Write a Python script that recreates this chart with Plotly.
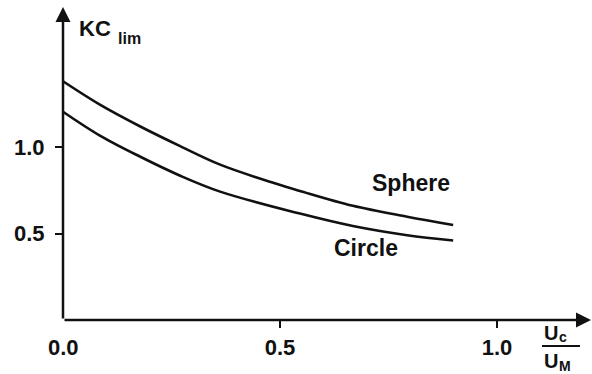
import plotly.graph_objects as go

# Limiting KC versus current ratio Uc/UM
sphere_x = [0.0, 0.085, 0.177, 0.27, 0.362, 0.488, 0.546, 0.668, 0.793, 0.899]
sphere_kc = [1.38, 1.245, 1.12, 1.005, 0.898, 0.79, 0.746, 0.66, 0.597, 0.549]

circle_x = [0.0, 0.085, 0.177, 0.27, 0.362, 0.546, 0.668, 0.793, 0.899]
circle_kc = [1.204, 1.066, 0.945, 0.834, 0.742, 0.615, 0.543, 0.49, 0.46]

x_ticks = [0.5, 1.0]
x_tick_text = ["0.5", "1.0"]
y_ticks = [0.5, 1.0]
y_tick_text = ["0.5", "1.0"]

W, H = 592, 374
L, B = 63, 54            # plot area origin in pixels
PX_X = 434.0             # pixels per unit of Uc/UM
PX_Y = 173.0             # pixels per unit of KC
plot_w, plot_h = W - L, H - B
x_max = plot_w / PX_X
y_max = plot_h / PX_Y

FONT = "Liberation Sans, Arial, Helvetica, sans-serif"
INK = "#111111"


def px(xp):
    return (xp - L) / plot_w


def py(yp):
    return (plot_h - yp) / plot_h


fig = go.Figure()
fig.add_trace(go.Scatter(x=sphere_x, y=sphere_kc, mode="lines",
                         line=dict(color=INK, width=2.6, shape="spline", smoothing=1.0),
                         name="Sphere", showlegend=False, hoverinfo="skip"))
fig.add_trace(go.Scatter(x=circle_x, y=circle_kc, mode="lines",
                         line=dict(color=INK, width=2.6, shape="spline", smoothing=1.0),
                         name="Circle", showlegend=False, hoverinfo="skip"))

annotations = []
# axis arrows
annotations.append(dict(x=(591 - L) / PX_X, y=0, ax=0, ay=0, xref="x", yref="y",
                        axref="x", ayref="y", text="", showarrow=True,
                        arrowhead=2, arrowsize=1.2, arrowwidth=2.5, arrowcolor=INK))
annotations.append(dict(x=0, y=(plot_h - 7) / PX_Y, ax=0, ay=0, xref="x", yref="y",
                        axref="x", ayref="y", text="", showarrow=True,
                        arrowhead=2, arrowsize=1.2, arrowwidth=2.5, arrowcolor=INK))


def label(text, xp, yp, size, anchor="center"):
    annotations.append(dict(text="<b>%s</b>" % text, x=px(xp), y=py(yp),
                            xref="paper", yref="paper",
                            xanchor=anchor, yanchor="middle", showarrow=False,
                            font=dict(family=FONT, size=size, color=INK)))


label("0.0", 63, 347, 22)
label("KC", 77, 29, 22, "left")
label("lim", 116, 38, 16, "left")
label("Sphere", 411, 183, 23)
label("Circle", 366, 248, 23)
label("U", 542, 333, 20, "left")
label("c", 557, 337, 14, "left")
label("U", 542, 361, 20, "left")
label("M", 557, 366, 14, "left")

fig.add_shape(type="line", xref="paper", yref="paper",
              x0=px(542), x1=px(580), y0=py(346), y1=py(346),
              line=dict(color=INK, width=2))

tick_font = dict(family="Liberation Sans, Arial, sans-serif", size=22, color=INK,
                 weight="bold")
fig.update_layout(
    width=W, height=H,
    margin=dict(l=L, r=0, t=0, b=B),
    paper_bgcolor="white", plot_bgcolor="white",
    annotations=annotations,
    xaxis=dict(range=[0, x_max], showgrid=False, zeroline=False, showline=False,
               tickmode="array", tickvals=x_ticks, ticktext=x_tick_text,
               ticks="outside", ticklen=7, tickwidth=2, tickcolor=INK,
               ticklabelstandoff=1, tickfont=tick_font),
    yaxis=dict(range=[0, y_max], showgrid=False, zeroline=False, showline=False,
               tickmode="array", tickvals=y_ticks, ticktext=y_tick_text,
               ticks="outside", ticklen=7, tickwidth=2, tickcolor=INK,
               ticklabelstandoff=6, tickfont=tick_font),
)

fig.write_html("out.html")
